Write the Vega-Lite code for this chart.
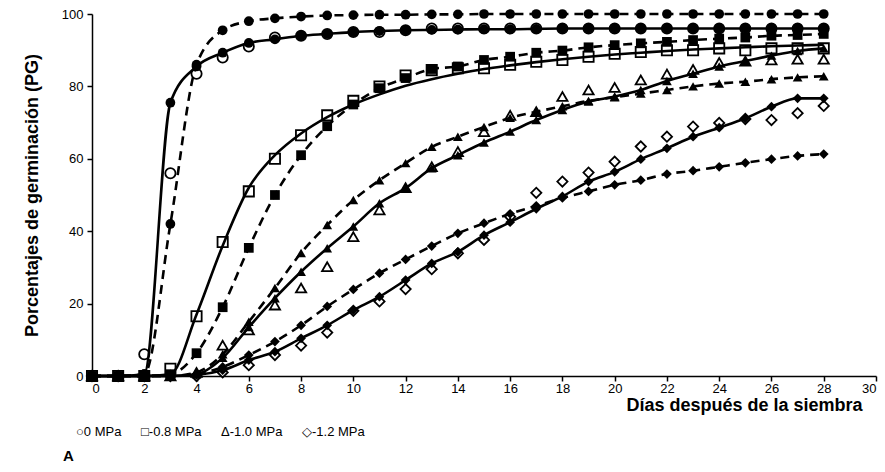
{
  "$schema": "https://vega.github.io/schema/vega-lite/v6.json",
  "autosize": {"type": "none"},
  "width": 784,
  "height": 362,
  "padding": {"left": 92, "top": 14, "right": 9, "bottom": 96},
  "background": "white",
  "config": {
    "view": {"stroke": null},
    "font": "Liberation Sans",
    "axis": {"grid": false, "domainColor": "black", "domainWidth": 1.5, "tickColor": "black", "tickWidth": 1.5, "tickSize": 5, "labelColor": "black", "labelFont": "Liberation Sans", "labelFontSize": 13, "titleColor": "black", "titleFont": "Liberation Sans", "titleFontWeight": "bold", "titleFontSize": 18}
  },
  "data": {"values": [
    {"t":"0 MPa","s":"obs","d":0,"v":0},{"t":"0 MPa","s":"obs","d":1,"v":0},{"t":"0 MPa","s":"obs","d":2,"v":6},{"t":"0 MPa","s":"obs","d":3,"v":56},{"t":"0 MPa","s":"obs","d":4,"v":83.5},{"t":"0 MPa","s":"obs","d":5,"v":88},{"t":"0 MPa","s":"obs","d":6,"v":91},{"t":"0 MPa","s":"obs","d":7,"v":93.5},{"t":"0 MPa","s":"obs","d":8,"v":94},{"t":"0 MPa","s":"obs","d":9,"v":94.5},{"t":"0 MPa","s":"obs","d":10,"v":95},{"t":"0 MPa","s":"obs","d":11,"v":95},{"t":"0 MPa","s":"obs","d":12,"v":95.5},{"t":"0 MPa","s":"obs","d":13,"v":96},{"t":"0 MPa","s":"obs","d":14,"v":96},{"t":"0 MPa","s":"obs","d":15,"v":96},{"t":"0 MPa","s":"obs","d":16,"v":96},{"t":"0 MPa","s":"obs","d":17,"v":96},{"t":"0 MPa","s":"obs","d":18,"v":96},{"t":"0 MPa","s":"obs","d":19,"v":96},{"t":"0 MPa","s":"obs","d":20,"v":96},{"t":"0 MPa","s":"obs","d":21,"v":96},{"t":"0 MPa","s":"obs","d":22,"v":96},{"t":"0 MPa","s":"obs","d":23,"v":96},{"t":"0 MPa","s":"obs","d":24,"v":96},{"t":"0 MPa","s":"obs","d":25,"v":96},{"t":"0 MPa","s":"obs","d":26,"v":96},{"t":"0 MPa","s":"obs","d":27,"v":96},{"t":"0 MPa","s":"obs","d":28,"v":96},
    {"t":"0 MPa","s":"A","d":0,"v":0},{"t":"0 MPa","s":"A","d":1,"v":0},{"t":"0 MPa","s":"A","d":2,"v":0.5},{"t":"0 MPa","s":"A","d":3,"v":75.5},{"t":"0 MPa","s":"A","d":4,"v":85.5},{"t":"0 MPa","s":"A","d":5,"v":89.3},{"t":"0 MPa","s":"A","d":6,"v":92},{"t":"0 MPa","s":"A","d":7,"v":93},{"t":"0 MPa","s":"A","d":8,"v":94},{"t":"0 MPa","s":"A","d":9,"v":94.5},{"t":"0 MPa","s":"A","d":10,"v":95},{"t":"0 MPa","s":"A","d":11,"v":95.3},{"t":"0 MPa","s":"A","d":12,"v":95.5},{"t":"0 MPa","s":"A","d":13,"v":95.6},{"t":"0 MPa","s":"A","d":14,"v":95.7},{"t":"0 MPa","s":"A","d":15,"v":95.8},{"t":"0 MPa","s":"A","d":16,"v":95.8},{"t":"0 MPa","s":"A","d":17,"v":95.9},{"t":"0 MPa","s":"A","d":18,"v":96},{"t":"0 MPa","s":"A","d":19,"v":96},{"t":"0 MPa","s":"A","d":20,"v":96},{"t":"0 MPa","s":"A","d":21,"v":96},{"t":"0 MPa","s":"A","d":22,"v":96},{"t":"0 MPa","s":"A","d":23,"v":96},{"t":"0 MPa","s":"A","d":24,"v":96},{"t":"0 MPa","s":"A","d":25,"v":96},{"t":"0 MPa","s":"A","d":26,"v":96},{"t":"0 MPa","s":"A","d":27,"v":96},{"t":"0 MPa","s":"A","d":28,"v":96},
    {"t":"0 MPa","s":"B","d":0,"v":0},{"t":"0 MPa","s":"B","d":1,"v":0},{"t":"0 MPa","s":"B","d":2,"v":0.5},{"t":"0 MPa","s":"B","d":3,"v":42},{"t":"0 MPa","s":"B","d":4,"v":86},{"t":"0 MPa","s":"B","d":5,"v":95.5},{"t":"0 MPa","s":"B","d":6,"v":98},{"t":"0 MPa","s":"B","d":7,"v":98.8},{"t":"0 MPa","s":"B","d":8,"v":99.3},{"t":"0 MPa","s":"B","d":9,"v":99.6},{"t":"0 MPa","s":"B","d":10,"v":99.7},{"t":"0 MPa","s":"B","d":11,"v":99.8},{"t":"0 MPa","s":"B","d":12,"v":99.8},{"t":"0 MPa","s":"B","d":13,"v":99.9},{"t":"0 MPa","s":"B","d":14,"v":99.9},{"t":"0 MPa","s":"B","d":15,"v":100},{"t":"0 MPa","s":"B","d":16,"v":100},{"t":"0 MPa","s":"B","d":17,"v":100},{"t":"0 MPa","s":"B","d":18,"v":100},{"t":"0 MPa","s":"B","d":19,"v":100},{"t":"0 MPa","s":"B","d":20,"v":100},{"t":"0 MPa","s":"B","d":21,"v":100},{"t":"0 MPa","s":"B","d":22,"v":100},{"t":"0 MPa","s":"B","d":23,"v":100},{"t":"0 MPa","s":"B","d":24,"v":100},{"t":"0 MPa","s":"B","d":25,"v":100},{"t":"0 MPa","s":"B","d":26,"v":100},{"t":"0 MPa","s":"B","d":27,"v":100},{"t":"0 MPa","s":"B","d":28,"v":100},
    {"t":"-0.8 MPa","s":"obs","d":0,"v":0},{"t":"-0.8 MPa","s":"obs","d":1,"v":0},{"t":"-0.8 MPa","s":"obs","d":2,"v":0},{"t":"-0.8 MPa","s":"obs","d":3,"v":2},{"t":"-0.8 MPa","s":"obs","d":4,"v":16.5},{"t":"-0.8 MPa","s":"obs","d":5,"v":37},{"t":"-0.8 MPa","s":"obs","d":6,"v":51},{"t":"-0.8 MPa","s":"obs","d":7,"v":60},{"t":"-0.8 MPa","s":"obs","d":8,"v":66.5},{"t":"-0.8 MPa","s":"obs","d":9,"v":72},{"t":"-0.8 MPa","s":"obs","d":10,"v":76},{"t":"-0.8 MPa","s":"obs","d":11,"v":80},{"t":"-0.8 MPa","s":"obs","d":12,"v":83},{"t":"-0.8 MPa","s":"obs","d":13,"v":84.5},{"t":"-0.8 MPa","s":"obs","d":14,"v":85},{"t":"-0.8 MPa","s":"obs","d":15,"v":85},{"t":"-0.8 MPa","s":"obs","d":16,"v":86},{"t":"-0.8 MPa","s":"obs","d":17,"v":86.8},{"t":"-0.8 MPa","s":"obs","d":18,"v":87.3},{"t":"-0.8 MPa","s":"obs","d":19,"v":88.2},{"t":"-0.8 MPa","s":"obs","d":20,"v":89},{"t":"-0.8 MPa","s":"obs","d":21,"v":89.5},{"t":"-0.8 MPa","s":"obs","d":22,"v":90},{"t":"-0.8 MPa","s":"obs","d":23,"v":90},{"t":"-0.8 MPa","s":"obs","d":24,"v":90.5},{"t":"-0.8 MPa","s":"obs","d":25,"v":90},{"t":"-0.8 MPa","s":"obs","d":26,"v":90.5},{"t":"-0.8 MPa","s":"obs","d":27,"v":90.5},{"t":"-0.8 MPa","s":"obs","d":28,"v":90.5},
    {"t":"-0.8 MPa","s":"A","d":0,"v":0},{"t":"-0.8 MPa","s":"A","d":1,"v":0},{"t":"-0.8 MPa","s":"A","d":2,"v":0},{"t":"-0.8 MPa","s":"A","d":3,"v":0.5},{"t":"-0.8 MPa","s":"A","d":4,"v":17},{"t":"-0.8 MPa","s":"A","d":5,"v":36},{"t":"-0.8 MPa","s":"A","d":6,"v":52},{"t":"-0.8 MPa","s":"A","d":7,"v":61},{"t":"-0.8 MPa","s":"A","d":8,"v":67},{"t":"-0.8 MPa","s":"A","d":9,"v":71.5},{"t":"-0.8 MPa","s":"A","d":10,"v":75},{"t":"-0.8 MPa","s":"A","d":11,"v":77.8},{"t":"-0.8 MPa","s":"A","d":12,"v":80.2},{"t":"-0.8 MPa","s":"A","d":13,"v":82},{"t":"-0.8 MPa","s":"A","d":14,"v":83.5},{"t":"-0.8 MPa","s":"A","d":15,"v":84.8},{"t":"-0.8 MPa","s":"A","d":16,"v":85.8},{"t":"-0.8 MPa","s":"A","d":17,"v":86.7},{"t":"-0.8 MPa","s":"A","d":18,"v":87.5},{"t":"-0.8 MPa","s":"A","d":19,"v":88.2},{"t":"-0.8 MPa","s":"A","d":20,"v":88.8},{"t":"-0.8 MPa","s":"A","d":21,"v":89.3},{"t":"-0.8 MPa","s":"A","d":22,"v":89.8},{"t":"-0.8 MPa","s":"A","d":23,"v":90.2},{"t":"-0.8 MPa","s":"A","d":24,"v":90.5},{"t":"-0.8 MPa","s":"A","d":25,"v":90.8},{"t":"-0.8 MPa","s":"A","d":26,"v":91.1},{"t":"-0.8 MPa","s":"A","d":27,"v":91.3},{"t":"-0.8 MPa","s":"A","d":28,"v":91.5},
    {"t":"-0.8 MPa","s":"B","d":0,"v":0},{"t":"-0.8 MPa","s":"B","d":1,"v":0},{"t":"-0.8 MPa","s":"B","d":2,"v":0},{"t":"-0.8 MPa","s":"B","d":3,"v":0.5},{"t":"-0.8 MPa","s":"B","d":4,"v":6.3},{"t":"-0.8 MPa","s":"B","d":5,"v":19},{"t":"-0.8 MPa","s":"B","d":6,"v":35.4},{"t":"-0.8 MPa","s":"B","d":7,"v":50},{"t":"-0.8 MPa","s":"B","d":8,"v":61},{"t":"-0.8 MPa","s":"B","d":9,"v":69},{"t":"-0.8 MPa","s":"B","d":10,"v":75},{"t":"-0.8 MPa","s":"B","d":11,"v":79.5},{"t":"-0.8 MPa","s":"B","d":12,"v":82.3},{"t":"-0.8 MPa","s":"B","d":13,"v":84.8},{"t":"-0.8 MPa","s":"B","d":14,"v":85.5},{"t":"-0.8 MPa","s":"B","d":15,"v":87.3},{"t":"-0.8 MPa","s":"B","d":16,"v":88.2},{"t":"-0.8 MPa","s":"B","d":17,"v":89.3},{"t":"-0.8 MPa","s":"B","d":18,"v":89.9},{"t":"-0.8 MPa","s":"B","d":19,"v":90.8},{"t":"-0.8 MPa","s":"B","d":20,"v":91.4},{"t":"-0.8 MPa","s":"B","d":21,"v":91.9},{"t":"-0.8 MPa","s":"B","d":22,"v":92.3},{"t":"-0.8 MPa","s":"B","d":23,"v":92.8},{"t":"-0.8 MPa","s":"B","d":24,"v":93.2},{"t":"-0.8 MPa","s":"B","d":25,"v":93.5},{"t":"-0.8 MPa","s":"B","d":26,"v":94},{"t":"-0.8 MPa","s":"B","d":27,"v":94.2},{"t":"-0.8 MPa","s":"B","d":28,"v":94.5},
    {"t":"-1.0 MPa","s":"obs","d":0,"v":0},{"t":"-1.0 MPa","s":"obs","d":1,"v":0},{"t":"-1.0 MPa","s":"obs","d":2,"v":0},{"t":"-1.0 MPa","s":"obs","d":3,"v":0},{"t":"-1.0 MPa","s":"obs","d":4,"v":1},{"t":"-1.0 MPa","s":"obs","d":5,"v":8.5},{"t":"-1.0 MPa","s":"obs","d":6,"v":12.7},{"t":"-1.0 MPa","s":"obs","d":7,"v":19.6},{"t":"-1.0 MPa","s":"obs","d":8,"v":24.3},{"t":"-1.0 MPa","s":"obs","d":9,"v":30.2},{"t":"-1.0 MPa","s":"obs","d":10,"v":38.5},{"t":"-1.0 MPa","s":"obs","d":11,"v":45.9},{"t":"-1.0 MPa","s":"obs","d":12,"v":52},{"t":"-1.0 MPa","s":"obs","d":13,"v":57.8},{"t":"-1.0 MPa","s":"obs","d":14,"v":62},{"t":"-1.0 MPa","s":"obs","d":15,"v":67.5},{"t":"-1.0 MPa","s":"obs","d":16,"v":72},{"t":"-1.0 MPa","s":"obs","d":17,"v":73},{"t":"-1.0 MPa","s":"obs","d":18,"v":77.2},{"t":"-1.0 MPa","s":"obs","d":19,"v":79},{"t":"-1.0 MPa","s":"obs","d":20,"v":79.7},{"t":"-1.0 MPa","s":"obs","d":21,"v":81.8},{"t":"-1.0 MPa","s":"obs","d":22,"v":83.4},{"t":"-1.0 MPa","s":"obs","d":23,"v":84.7},{"t":"-1.0 MPa","s":"obs","d":24,"v":86.6},{"t":"-1.0 MPa","s":"obs","d":25,"v":87},{"t":"-1.0 MPa","s":"obs","d":26,"v":87.3},{"t":"-1.0 MPa","s":"obs","d":27,"v":87.5},{"t":"-1.0 MPa","s":"obs","d":28,"v":87.5},
    {"t":"-1.0 MPa","s":"A","d":0,"v":0},{"t":"-1.0 MPa","s":"A","d":1,"v":0},{"t":"-1.0 MPa","s":"A","d":2,"v":0},{"t":"-1.0 MPa","s":"A","d":3,"v":0},{"t":"-1.0 MPa","s":"A","d":4,"v":0.5},{"t":"-1.0 MPa","s":"A","d":5,"v":5},{"t":"-1.0 MPa","s":"A","d":6,"v":13.5},{"t":"-1.0 MPa","s":"A","d":7,"v":21.5},{"t":"-1.0 MPa","s":"A","d":8,"v":28.8},{"t":"-1.0 MPa","s":"A","d":9,"v":35.3},{"t":"-1.0 MPa","s":"A","d":10,"v":41.3},{"t":"-1.0 MPa","s":"A","d":11,"v":47.7},{"t":"-1.0 MPa","s":"A","d":12,"v":51.9},{"t":"-1.0 MPa","s":"A","d":13,"v":57.4},{"t":"-1.0 MPa","s":"A","d":14,"v":61},{"t":"-1.0 MPa","s":"A","d":15,"v":64.5},{"t":"-1.0 MPa","s":"A","d":16,"v":67.5},{"t":"-1.0 MPa","s":"A","d":17,"v":70.7},{"t":"-1.0 MPa","s":"A","d":18,"v":73.5},{"t":"-1.0 MPa","s":"A","d":19,"v":75.8},{"t":"-1.0 MPa","s":"A","d":20,"v":77.2},{"t":"-1.0 MPa","s":"A","d":21,"v":79},{"t":"-1.0 MPa","s":"A","d":22,"v":81.5},{"t":"-1.0 MPa","s":"A","d":23,"v":83.5},{"t":"-1.0 MPa","s":"A","d":24,"v":85.5},{"t":"-1.0 MPa","s":"A","d":25,"v":87},{"t":"-1.0 MPa","s":"A","d":26,"v":88.5},{"t":"-1.0 MPa","s":"A","d":27,"v":89.8},{"t":"-1.0 MPa","s":"A","d":28,"v":90.5},
    {"t":"-1.0 MPa","s":"B","d":0,"v":0},{"t":"-1.0 MPa","s":"B","d":1,"v":0},{"t":"-1.0 MPa","s":"B","d":2,"v":0},{"t":"-1.0 MPa","s":"B","d":3,"v":0},{"t":"-1.0 MPa","s":"B","d":4,"v":1},{"t":"-1.0 MPa","s":"B","d":5,"v":6},{"t":"-1.0 MPa","s":"B","d":6,"v":15},{"t":"-1.0 MPa","s":"B","d":7,"v":24.3},{"t":"-1.0 MPa","s":"B","d":8,"v":34},{"t":"-1.0 MPa","s":"B","d":9,"v":41.7},{"t":"-1.0 MPa","s":"B","d":10,"v":48.6},{"t":"-1.0 MPa","s":"B","d":11,"v":54.1},{"t":"-1.0 MPa","s":"B","d":12,"v":58.8},{"t":"-1.0 MPa","s":"B","d":13,"v":63.3},{"t":"-1.0 MPa","s":"B","d":14,"v":66.1},{"t":"-1.0 MPa","s":"B","d":15,"v":68.8},{"t":"-1.0 MPa","s":"B","d":16,"v":71.3},{"t":"-1.0 MPa","s":"B","d":17,"v":73},{"t":"-1.0 MPa","s":"B","d":18,"v":74.5},{"t":"-1.0 MPa","s":"B","d":19,"v":76},{"t":"-1.0 MPa","s":"B","d":20,"v":77},{"t":"-1.0 MPa","s":"B","d":21,"v":78},{"t":"-1.0 MPa","s":"B","d":22,"v":79},{"t":"-1.0 MPa","s":"B","d":23,"v":80},{"t":"-1.0 MPa","s":"B","d":24,"v":80.8},{"t":"-1.0 MPa","s":"B","d":25,"v":81.3},{"t":"-1.0 MPa","s":"B","d":26,"v":82},{"t":"-1.0 MPa","s":"B","d":27,"v":82.5},{"t":"-1.0 MPa","s":"B","d":28,"v":82.8},
    {"t":"-1.2 MPa","s":"obs","d":0,"v":0},{"t":"-1.2 MPa","s":"obs","d":1,"v":0},{"t":"-1.2 MPa","s":"obs","d":2,"v":0},{"t":"-1.2 MPa","s":"obs","d":3,"v":0},{"t":"-1.2 MPa","s":"obs","d":4,"v":0},{"t":"-1.2 MPa","s":"obs","d":5,"v":1},{"t":"-1.2 MPa","s":"obs","d":6,"v":3},{"t":"-1.2 MPa","s":"obs","d":7,"v":5.8},{"t":"-1.2 MPa","s":"obs","d":8,"v":8.4},{"t":"-1.2 MPa","s":"obs","d":9,"v":12},{"t":"-1.2 MPa","s":"obs","d":10,"v":18},{"t":"-1.2 MPa","s":"obs","d":11,"v":20.6},{"t":"-1.2 MPa","s":"obs","d":12,"v":24},{"t":"-1.2 MPa","s":"obs","d":13,"v":29.5},{"t":"-1.2 MPa","s":"obs","d":14,"v":33.9},{"t":"-1.2 MPa","s":"obs","d":15,"v":37.6},{"t":"-1.2 MPa","s":"obs","d":16,"v":44},{"t":"-1.2 MPa","s":"obs","d":17,"v":50.6},{"t":"-1.2 MPa","s":"obs","d":18,"v":53.7},{"t":"-1.2 MPa","s":"obs","d":19,"v":56.2},{"t":"-1.2 MPa","s":"obs","d":20,"v":59.2},{"t":"-1.2 MPa","s":"obs","d":21,"v":63.4},{"t":"-1.2 MPa","s":"obs","d":22,"v":66.1},{"t":"-1.2 MPa","s":"obs","d":23,"v":68.9},{"t":"-1.2 MPa","s":"obs","d":24,"v":69.9},{"t":"-1.2 MPa","s":"obs","d":25,"v":71},{"t":"-1.2 MPa","s":"obs","d":26,"v":70.7},{"t":"-1.2 MPa","s":"obs","d":27,"v":72.6},{"t":"-1.2 MPa","s":"obs","d":28,"v":74.6},
    {"t":"-1.2 MPa","s":"A","d":0,"v":0},{"t":"-1.2 MPa","s":"A","d":1,"v":0},{"t":"-1.2 MPa","s":"A","d":2,"v":0},{"t":"-1.2 MPa","s":"A","d":3,"v":0},{"t":"-1.2 MPa","s":"A","d":4,"v":0.3},{"t":"-1.2 MPa","s":"A","d":5,"v":1.6},{"t":"-1.2 MPa","s":"A","d":6,"v":4.4},{"t":"-1.2 MPa","s":"A","d":7,"v":6.7},{"t":"-1.2 MPa","s":"A","d":8,"v":10.4},{"t":"-1.2 MPa","s":"A","d":9,"v":14},{"t":"-1.2 MPa","s":"A","d":10,"v":18.2},{"t":"-1.2 MPa","s":"A","d":11,"v":21.9},{"t":"-1.2 MPa","s":"A","d":12,"v":26.5},{"t":"-1.2 MPa","s":"A","d":13,"v":31.1},{"t":"-1.2 MPa","s":"A","d":14,"v":34.3},{"t":"-1.2 MPa","s":"A","d":15,"v":38.9},{"t":"-1.2 MPa","s":"A","d":16,"v":42.5},{"t":"-1.2 MPa","s":"A","d":17,"v":46.2},{"t":"-1.2 MPa","s":"A","d":18,"v":49.6},{"t":"-1.2 MPa","s":"A","d":19,"v":53.7},{"t":"-1.2 MPa","s":"A","d":20,"v":56.4},{"t":"-1.2 MPa","s":"A","d":21,"v":59.9},{"t":"-1.2 MPa","s":"A","d":22,"v":62.9},{"t":"-1.2 MPa","s":"A","d":23,"v":66.1},{"t":"-1.2 MPa","s":"A","d":24,"v":68.6},{"t":"-1.2 MPa","s":"A","d":25,"v":71.2},{"t":"-1.2 MPa","s":"A","d":26,"v":74.4},{"t":"-1.2 MPa","s":"A","d":27,"v":76.7},{"t":"-1.2 MPa","s":"A","d":28,"v":76.7},
    {"t":"-1.2 MPa","s":"B","d":0,"v":0},{"t":"-1.2 MPa","s":"B","d":1,"v":0},{"t":"-1.2 MPa","s":"B","d":2,"v":0},{"t":"-1.2 MPa","s":"B","d":3,"v":0},{"t":"-1.2 MPa","s":"B","d":4,"v":0.5},{"t":"-1.2 MPa","s":"B","d":5,"v":2.5},{"t":"-1.2 MPa","s":"B","d":6,"v":5.8},{"t":"-1.2 MPa","s":"B","d":7,"v":9.5},{"t":"-1.2 MPa","s":"B","d":8,"v":14},{"t":"-1.2 MPa","s":"B","d":9,"v":19.2},{"t":"-1.2 MPa","s":"B","d":10,"v":23.9},{"t":"-1.2 MPa","s":"B","d":11,"v":28.4},{"t":"-1.2 MPa","s":"B","d":12,"v":32.2},{"t":"-1.2 MPa","s":"B","d":13,"v":35.9},{"t":"-1.2 MPa","s":"B","d":14,"v":39.4},{"t":"-1.2 MPa","s":"B","d":15,"v":42.2},{"t":"-1.2 MPa","s":"B","d":16,"v":44.8},{"t":"-1.2 MPa","s":"B","d":17,"v":47},{"t":"-1.2 MPa","s":"B","d":18,"v":49.2},{"t":"-1.2 MPa","s":"B","d":19,"v":51},{"t":"-1.2 MPa","s":"B","d":20,"v":52.8},{"t":"-1.2 MPa","s":"B","d":21,"v":54.1},{"t":"-1.2 MPa","s":"B","d":22,"v":55.8},{"t":"-1.2 MPa","s":"B","d":23,"v":56.7},{"t":"-1.2 MPa","s":"B","d":24,"v":57.8},{"t":"-1.2 MPa","s":"B","d":25,"v":58.9},{"t":"-1.2 MPa","s":"B","d":26,"v":59.9},{"t":"-1.2 MPa","s":"B","d":27,"v":60.8},{"t":"-1.2 MPa","s":"B","d":28,"v":61.3}
  ]},
  "encoding": {
    "x": {"field": "d", "type": "quantitative", "scale": {"domain": [0, 30], "nice": false, "zero": false},
      "axis": {"values": [0,2,4,6,8,10,12,14,16,18,20,22,24,26,28,30], "title": "Días después de la siembra", "titleAnchor": "end", "titleAlign": "right", "titleX": 770, "titleY": 34, "titleBaseline": "alphabetic", "labelPadding": 1}},
    "y": {"field": "v", "type": "quantitative", "scale": {"domain": [0, 100], "nice": false},
      "axis": {"values": [0,20,40,60,80,100], "title": "Porcentajes de germinación (PG)", "titleX": -60, "titleY": 181, "titleAngle": -90, "titleAlign": "center", "titleBaseline": "middle", "labelPadding": 4}}
  },
  "resolve": {"scale": {"shape": "independent"}, "legend": {"shape": "independent"}},
  "layer": [
    {
      "transform": [{"filter": "datum.s === 'obs'"}],
      "mark": {"type": "point", "filled": false, "fill": "white", "fillOpacity": 1, "stroke": "black", "strokeWidth": 1.8, "opacity": 1, "size": 105},
      "encoding": {
        "shape": {"field": "t", "type": "nominal",
          "scale": {"domain": ["0 MPa", "-0.8 MPa", "-1.0 MPa", "-1.2 MPa"], "range": ["circle", "square", "triangle-up", "diamond"]},
          "legend": {"orient": "none", "direction": "horizontal", "columns": 4, "legendX": -29, "legendY": 411, "title": "A", "titleOrient": "bottom", "titleAnchor": "start", "titleFontSize": 15, "titleFontWeight": "bold", "titleColor": "black", "titlePadding": 10, "labelFont": "Liberation Sans", "labelFontSize": 13, "labelColor": "black", "labelOffset": 0, "symbolSize": 0, "symbolStrokeWidth": 0, "symbolOpacity": 0, "columnPadding": 6,
            "labelExpr": "(datum.label === '0 MPa' ? '○' : datum.label === '-0.8 MPa' ? '□' : datum.label === '-1.0 MPa' ? 'Δ' : '◇') + datum.label"}
        }
      }
    },
    {
      "transform": [{"filter": "datum.s === 'A'"}],
      "mark": {"type": "line", "color": "black", "strokeWidth": 2.6, "interpolate": "monotone"},
      "encoding": {"detail": {"field": "t", "type": "nominal"}}
    },
    {
      "transform": [{"filter": "datum.s === 'B'"}],
      "mark": {"type": "line", "color": "black", "strokeWidth": 2.6, "strokeDash": [9, 6], "interpolate": "monotone"},
      "encoding": {"detail": {"field": "t", "type": "nominal"}}
    },
    {
      "transform": [{"filter": "datum.s === 'B' || (datum.s === 'A' && datum.t !== '-0.8 MPa')"}],
      "mark": {"type": "point", "filled": true, "color": "black", "opacity": 1, "size": 95},
      "encoding": {"shape": {"field": "t", "type": "nominal",
        "scale": {"domain": ["0 MPa", "-0.8 MPa", "-1.0 MPa", "-1.2 MPa"], "range": ["circle", "square", "triangle-up", "diamond"]},
        "legend": null}}
    }
  ]
}
